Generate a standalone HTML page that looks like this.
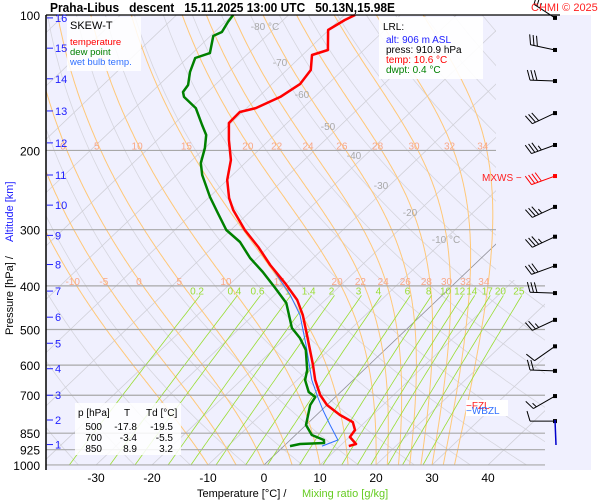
<!DOCTYPE html>
<html><head><meta charset="utf-8"><style>
html,body{margin:0;padding:0;background:#fff;}
svg{display:block;font-family:"Liberation Sans",sans-serif;}
</style></head><body>
<svg id="chart" width="600" height="500" viewBox="0 0 600 500" xmlns="http://www.w3.org/2000/svg">
<defs><clipPath id="pc"><polygon points="46,15 496,15 496,280 545,280 545,465 46,465"/></clipPath></defs>
<rect x="46" y="15" width="545" height="455" fill="#f0f0fe"/>
<g id="bg" clip-path="url(#pc)"></g>
<g id="isob"></g>
<g id="lab"></g>
<g id="series"></g>
<g id="barbs"></g>
<line x1="46" y1="15" x2="560" y2="15" stroke="#000" stroke-width="1.2"/>
<line x1="46" y1="15" x2="46" y2="470" stroke="#000" stroke-width="1.5"/>
<text x="50" y="12" font-size="13" font-weight="bold" textLength="345" lengthAdjust="spacingAndGlyphs" xml:space="preserve">Praha-Libus   descent   15.11.2025 13:00 UTC   50.13N,15.98E</text>
<text x="531" y="11" font-size="11" fill="#ff2020">CHMI © 2025</text>
<rect x="67" y="17" width="74" height="54" fill="#fff" opacity="0.85"/>
<text x="70" y="29" font-size="11">SKEW-T</text>
<text x="70" y="45" font-size="9.5" fill="#ff0000">temperature</text>
<text x="70" y="55" font-size="9.5" fill="#008000">dew point</text>
<text x="70" y="65" font-size="9.5" fill="#3070ff">wet bulb temp.</text>
<rect x="379" y="17" width="104" height="62" fill="#fff" opacity="0.9"/>
<text x="383" y="30" font-size="10">LRL:</text>
<text x="386" y="43" font-size="10" fill="#2020ff">alt: 906 m ASL</text>
<text x="386" y="53" font-size="10">press: 910.9 hPa</text>
<text x="386" y="63" font-size="10" fill="#ff0000">temp: 10.6 °C</text>
<text x="386" y="73" font-size="10" fill="#008000">dwpt: 0.4 °C</text>
<rect x="75" y="403" width="106" height="52" fill="#fff" opacity="0.85"/>
<g font-size="10">
<text x="78" y="416">p [hPa]</text><text x="124" y="416">T</text><text x="146" y="416">Td [°C]</text>
<text x="102" y="430" text-anchor="end">500</text><text x="137" y="430" text-anchor="end">-17.8</text><text x="173" y="430" text-anchor="end">-19.5</text>
<text x="102" y="441" text-anchor="end">700</text><text x="137" y="441" text-anchor="end">-3.4</text><text x="173" y="441" text-anchor="end">-5.5</text>
<text x="102" y="452" text-anchor="end">850</text><text x="137" y="452" text-anchor="end">8.9</text><text x="173" y="452" text-anchor="end">3.2</text>
</g>
<text x="482" y="181" font-size="10" fill="#ff2020">MXWS −</text>
<rect x="466" y="400" width="42" height="16" fill="#fff"/>
<text x="466" y="409" font-size="10" fill="#ff2020">−FZL</text>
<text x="466" y="414" font-size="10" fill="#3070ff">−WBZL</text>
<text x="197" y="497" font-size="11">Temperature [°C]  /</text>
<text x="302" y="497" font-size="11" fill="#66cc22">Mixing ratio [g/kg]</text>
<text transform="translate(13,335) rotate(-90)" font-size="11">Pressure [hPa]  /</text>
<text transform="translate(13,242) rotate(-90)" font-size="11" fill="#2020ff">Altitude [km]</text>
<g id="axes"></g>
</svg>
<script>
const tempP=[100,102.6,108,119.6,122.7,132.5,142.4,152.1,161,164.3,173.8,189.6,210,232.7,255.1,271.3,300.5,327.8,359.4,394,430,464.3,514.3,599.6,647.5,699,736,774.5,803,836.5,866.9,898.6,908];
const tempT=[-68.1,-69,-70.1,-66.4,-68.3,-65.7,-65,-66.1,-68.4,-70.5,-70.4,-67.2,-63.1,-60,-56.3,-53.3,-47.5,-41.9,-36.4,-30.4,-25,-21.2,-16.7,-10,-6.8,-3.1,0,4.2,7.8,9.7,10.1,12.5,11.6];
const dewP=[100,103.6,109.1,111.3,121.5,124.6,133.9,143.1,148.3,152.1,161,175.6,184.8,197.5,213.3,226.8,253.8,275.5,300.5,319.5,346.8,372.6,404.3,436.6,496.2,522.2,555.2,615.3,647.5,688.5,706.3,736,815.3,857.9,880.2,893.7,898.6,908];
const dewT=[-89.9,-89.5,-88.7,-89.5,-86.9,-88.6,-86.9,-84.8,-84.4,-83.3,-79.1,-74.8,-72.2,-70,-67.9,-65.4,-59.9,-55.5,-50.8,-46.1,-41.3,-36.4,-31.2,-26.4,-20.7,-17.4,-14.1,-10.1,-8.6,-5.7,-3.6,-3,0,2.9,6,6.6,2.5,1.1];
const wbP=[365,419,464.3,541.2,647.5,710,755,815.3,857.9,880.2,908];
const wbT=[-35.5,-27.2,-21.7,-15,-7.4,-2.9,0.2,4.3,7.1,8.5,6.8];
const isobars=[200,300,400,500,600,700,850,925,1000];
const pLabels=[100,200,300,400,500,600,700,850,925,1000];
const tTicks=[-30,-20,-10,0,10,20,30,40];
const altKm=[16,15,14,13,12,11,10,9,8,7,6,5,4,3,2,1];
const altP=[101.5,118.5,138.6,163.4,192.4,226.8,264.6,308.9,358.6,410.8,469.5,536.5,611.2,700,794.6,901];
const thwList=[-10,-5,0,5,10,15,20,22,24,26,28,30,32,34];
const mixW=[0.2,0.4,0.6,1,1.4,2,3,4,6,8,10,12,14,17,20,25];
const barbP=[101.5,119.6,140.2,165.2,194.5,228,267,311,361,415,476,545,618,703,799];
const barbDir=[303,282,272,245,250,250,245,245,250,272,245,235,272,240,270];
const barbSpd=[25,30,30,30,35,40,35,35,30,30,25,10,20,15,10];

const NS="http://www.w3.org/2000/svg";
function yP(p){return 15+195.4*Math.log(p/100);}
function xT(T,p){return 264+5.6*T+1.05*(465-yP(p));}
function mk(parent,tag,at){const e=document.createElementNS(NS,tag);for(const k in at)e.setAttribute(k,at[k]);parent.appendChild(e);return e;}
function path(pts){return pts.map((q,i)=>(i?'L':'M')+q[0].toFixed(1)+','+q[1].toFixed(1)).join('');}
const bg=document.getElementById('bg'),isob=document.getElementById('isob'),lab=document.getElementById('lab'),ser=document.getElementById('series'),axes=document.getElementById('axes'),bb=document.getElementById('barbs');
for(let th=230;th<=500;th+=10){const pts=[];for(let p=1000;p>=100;p-=10){pts.push([xT(th*Math.pow(p/1000,0.286)-273.15,p),yP(p)]);}
 const e=mk(bg,'path',{d:path(pts),fill:'none',stroke:'#d6d6de','stroke-width':0.8});
 
 }
for(let T=-130;T<=40;T+=10){const e=mk(bg,'line',{x1:xT(T,1000),y1:yP(1000),x2:xT(T,100),y2:yP(100),stroke:T===0?'#909098':'#d0d0d8','stroke-width':0.8});
 
 }
function moist(thw){let T=thw+273.15;const pts=[];for(let p=1000;p>=100;p-=2){pts.push([xT(T-273.15,p),yP(p),p]);const es=6.112*Math.exp(17.67*(T-273.15)/(T-29.65));const rs=0.622*es/(p-es);const d=(287*T+2.5e6*rs)/(p*(1004+2.5e6*2.5e6*rs*0.622/(287*T*T)));T+=d*(-2);}return pts;}
thwList.forEach(t=>{const pts=moist(t);const e=mk(bg,'path',{d:path(pts),fill:'none',stroke:'#ffc878','stroke-width':1});
 
 
 [200,400].forEach(pl=>{const q=pts.find(a=>a[2]<=pl);if(!q)return;if(q[0]<50||q[0]>490)return;const tx=mk(lab,'text',{x:q[0]-4,y:yP(pl)-1,'font-size':10,fill:'#f8a888','text-anchor':'middle'});tx.textContent=t;
 
 });});
mixW.forEach(w=>{const pts=[];for(let p=1000;p>=420;p-=10){const e=w*p/(622+w);const l=Math.log(e/6.112);const td=243.5*l/(17.67-l);pts.push([xT(td,p),yP(p)]);}
 const e=mk(bg,'path',{d:path(pts),fill:'none',stroke:'#99dd33','stroke-width':0.8});
 
 
 const top=pts[pts.length-1];const tx=mk(lab,'text',{x:top[0]-3,y:top[1]-1,'font-size':10,fill:'#99dd33','text-anchor':'middle'});tx.textContent=w;
 
 });
[[-80,265,30],[-70,280,66],[-60,302,98],[-50,328,130],[-40,354,159],[-30,381,189],[-20,410,216],[-10,446,243]].forEach(a=>{const tx=mk(lab,'text',{x:a[1],y:a[2],'font-size':10,fill:'#a8a8a8','text-anchor':'middle'});tx.textContent=a[0]+(a[0]===-80||a[0]===-10?' °C':'');
 
 });
isobars.forEach(p=>{const e=mk(isob,'line',{x1:46,x2:p<400?496:545,y1:yP(p),y2:yP(p),stroke:'#a8a8a8','stroke-width':1.2});
 
 });
pLabels.forEach(p=>{const tx=mk(axes,'text',{x:40,y:yP(p)+5,'font-size':12,'text-anchor':'end'});tx.textContent=p;
 
 });
tTicks.forEach(t=>{const tx=mk(axes,'text',{x:264+5.6*t,y:482,'font-size':12,'text-anchor':'middle'});tx.textContent=t;
 
 });
altKm.forEach((k,i)=>{const y=yP(altP[i]);mk(axes,'line',{x1:47,x2:53,y1:y,y2:y,stroke:'#2020ff','stroke-width':1});const tx=mk(axes,'text',{x:55,y:y+4,'font-size':11,fill:'#2020ff'});tx.textContent=k;
 
 });
function line(P,T,col,w,name){const e=mk(ser,'path',{d:path(P.map((p,i)=>[xT(T[i],p),yP(p)])),fill:'none',stroke:col,'stroke-width':w,'stroke-linejoin':'round'});
 
 }
line(wbP,wbT,'#3070ff',1,'wet-bulb-line');
line(dewP,dewT,'#008000',2.5,'dew-point-line');
line(tempP,tempT,'#ff0000',2.5,'temperature-line');
barbP.forEach((p,i)=>{const y=yP(p),x=555;const d=barbDir[i]*Math.PI/180;const ux=Math.sin(d),uy=-Math.cos(d);const L=25;const col=i===5?'#ff0000':'#000';
 const g=mk(bb,'g',{stroke:col,'stroke-width':1,fill:'none'});
 
 
 mk(g,'line',{x1:x,y1:y,x2:x+ux*L,y2:y+uy*L});
 mk(g,'rect',{x:x-2,y:y-2,width:4,height:4,fill:col,stroke:'none'});
 let s=barbSpd[i],k=0;
 while(s>=10){const bx=x+ux*(L-k*3.5),by=y+uy*(L-k*3.5);mk(g,'line',{x1:bx,y1:by,x2:bx-uy*10+ux*3,y2:by+ux*10+uy*3});s-=10;k++;}
 if(s>=5){const bx=x+ux*(L-k*3.5),by=y+uy*(L-k*3.5);mk(g,'line',{x1:bx,y1:by,x2:bx-uy*5+ux*1.5,y2:by+ux*5+uy*1.5});}
});
mk(bb,'line',{x1:555,y1:420,x2:556,y2:445,stroke:'#0000cc','stroke-width':1.5});
</script>
</body></html>
